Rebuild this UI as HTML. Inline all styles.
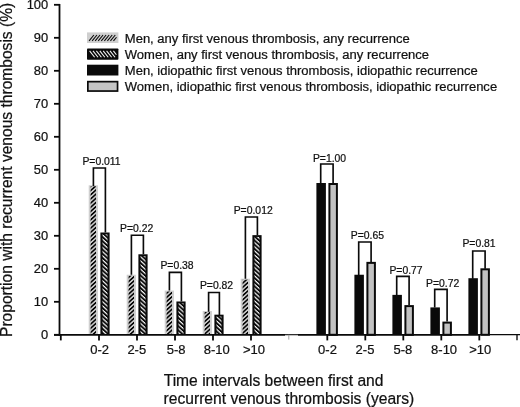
<!DOCTYPE html>
<html><head><meta charset="utf-8"><title>Chart</title>
<style>html,body{margin:0;padding:0;background:#fff;}body{width:520px;height:407px;overflow:hidden;}svg{display:block;will-change:transform;}text{font-family:"Liberation Sans",sans-serif;fill:#111;stroke:#111;stroke-width:0.22px;}</style>
</head><body>
<svg width="520" height="407" viewBox="0 0 520 407">
<defs>
<pattern id="hA" patternUnits="userSpaceOnUse" width="20" height="3.1" patternTransform="rotate(-42)"><rect width="20" height="3.1" fill="#cfcfcf"/><rect width="20" height="1.6" fill="#050505"/></pattern>
<pattern id="hB" patternUnits="userSpaceOnUse" width="20" height="3.1" patternTransform="rotate(42)"><rect width="20" height="3.1" fill="#0a0a0a"/><rect width="20" height="1.2" fill="#f6f6f6"/></pattern>
</defs>
<rect width="520" height="407" fill="#ffffff"/>
<rect x="88.70" y="185.31" width="9.2" height="149.49" fill="#cfcfcf"/>
<rect x="90.60" y="186.31" width="5.40" height="148.49" fill="url(#hA)"/>
<rect x="100.40" y="232.50" width="9.2" height="102.30" fill="#0a0a0a"/>
<rect x="102.50" y="234.30" width="5.00" height="100.50" fill="url(#hB)"/>
<rect x="126.70" y="274.74" width="9.2" height="60.06" fill="#cfcfcf"/>
<rect x="128.60" y="275.74" width="5.40" height="59.06" fill="url(#hA)"/>
<rect x="138.40" y="254.28" width="9.2" height="80.52" fill="#0a0a0a"/>
<rect x="140.50" y="256.08" width="5.00" height="78.72" fill="url(#hB)"/>
<rect x="164.70" y="290.58" width="9.2" height="44.22" fill="#cfcfcf"/>
<rect x="166.60" y="291.58" width="5.40" height="43.22" fill="url(#hA)"/>
<rect x="176.40" y="301.47" width="9.2" height="33.33" fill="#0a0a0a"/>
<rect x="178.50" y="303.27" width="5.00" height="31.53" fill="url(#hB)"/>
<rect x="202.70" y="311.04" width="9.2" height="23.76" fill="#cfcfcf"/>
<rect x="204.60" y="312.04" width="5.40" height="22.76" fill="url(#hA)"/>
<rect x="214.40" y="314.67" width="9.2" height="20.13" fill="#0a0a0a"/>
<rect x="216.50" y="316.47" width="5.00" height="18.33" fill="url(#hB)"/>
<rect x="240.70" y="278.70" width="9.2" height="56.10" fill="#cfcfcf"/>
<rect x="242.60" y="279.70" width="5.40" height="55.10" fill="url(#hA)"/>
<rect x="252.40" y="235.14" width="9.2" height="99.66" fill="#0a0a0a"/>
<rect x="254.50" y="236.94" width="5.00" height="97.86" fill="url(#hB)"/>
<rect x="316.40" y="183.00" width="9.5" height="151.80" fill="#0a0a0a"/>
<rect x="329.40" y="184.00" width="7.50" height="150.80" fill="#c2c2c2" stroke="#0a0a0a" stroke-width="2.0"/>
<rect x="354.40" y="274.74" width="9.5" height="60.06" fill="#0a0a0a"/>
<rect x="367.40" y="262.87" width="7.50" height="71.93" fill="#c2c2c2" stroke="#0a0a0a" stroke-width="2.0"/>
<rect x="392.40" y="294.87" width="9.5" height="39.93" fill="#0a0a0a"/>
<rect x="405.40" y="306.10" width="7.50" height="28.70" fill="#c2c2c2" stroke="#0a0a0a" stroke-width="2.0"/>
<rect x="430.40" y="307.41" width="9.5" height="27.39" fill="#0a0a0a"/>
<rect x="443.40" y="322.60" width="7.50" height="12.20" fill="#c2c2c2" stroke="#0a0a0a" stroke-width="2.0"/>
<rect x="468.40" y="278.21" width="9.5" height="56.59" fill="#0a0a0a"/>
<rect x="481.40" y="269.31" width="7.50" height="65.50" fill="#c2c2c2" stroke="#0a0a0a" stroke-width="2.0"/>
<path d="M93.40,186.30 L93.40,168.00 L105.40,168.00 L105.40,232.50" fill="none" stroke="#0a0a0a" stroke-width="1.65" stroke-linejoin="miter"/>
<text x="82.40" y="165.00" font-size="10.4">P=0.011</text>
<path d="M131.40,274.74 L131.40,235.20 L143.40,235.20 L143.40,254.28" fill="none" stroke="#0a0a0a" stroke-width="1.65" stroke-linejoin="miter"/>
<text x="120.10" y="232.20" font-size="10.4">P=0.22</text>
<path d="M169.40,290.58 L169.40,272.30 L181.40,272.30 L181.40,301.47" fill="none" stroke="#0a0a0a" stroke-width="1.65" stroke-linejoin="miter"/>
<text x="160.40" y="268.50" font-size="10.4">P=0.38</text>
<path d="M208.60,311.70 L208.60,292.50 L219.40,292.50 L219.40,315.00" fill="none" stroke="#0a0a0a" stroke-width="1.65" stroke-linejoin="miter"/>
<text x="199.90" y="289.30" font-size="10.4">P=0.82</text>
<path d="M245.40,278.70 L245.40,217.00 L257.40,217.00 L257.40,235.14" fill="none" stroke="#0a0a0a" stroke-width="1.65" stroke-linejoin="miter"/>
<text x="233.70" y="214.20" font-size="10.4">P=0.012</text>
<path d="M320.70,183.00 L320.70,164.00 L333.10,164.00 L333.10,183.00" fill="none" stroke="#0a0a0a" stroke-width="1.65" stroke-linejoin="miter"/>
<text x="312.90" y="162.00" font-size="10.4">P=1.00</text>
<path d="M358.70,275.40 L358.70,242.00 L371.10,242.00 L371.10,262.20" fill="none" stroke="#0a0a0a" stroke-width="1.65" stroke-linejoin="miter"/>
<text x="350.80" y="238.60" font-size="10.4">P=0.65</text>
<path d="M396.70,295.20 L396.70,276.40 L409.10,276.40 L409.10,305.10" fill="none" stroke="#0a0a0a" stroke-width="1.65" stroke-linejoin="miter"/>
<text x="389.40" y="273.60" font-size="10.4">P=0.77</text>
<path d="M434.70,307.41 L434.70,289.30 L447.10,289.30 L447.10,321.60" fill="none" stroke="#0a0a0a" stroke-width="1.65" stroke-linejoin="miter"/>
<text x="426.10" y="286.60" font-size="10.4">P=0.72</text>
<path d="M472.70,278.70 L472.70,251.00 L485.10,251.00 L485.10,268.80" fill="none" stroke="#0a0a0a" stroke-width="1.65" stroke-linejoin="miter"/>
<text x="462.40" y="247.40" font-size="10.4">P=0.81</text>
<line x1="59.5" y1="3.9" x2="59.5" y2="335.70" stroke="#0a0a0a" stroke-width="1.8"/>
<line x1="54" y1="334.8" x2="285" y2="334.8" stroke="#0a0a0a" stroke-width="1.8"/>
<line x1="285" y1="334.7" x2="298" y2="334.7" stroke="#0a0a0a" stroke-width="1.1"/>
<line x1="298" y1="334.8" x2="480" y2="334.8" stroke="#0a0a0a" stroke-width="1.8"/>
<line x1="480" y1="334.7" x2="520" y2="334.7" stroke="#0a0a0a" stroke-width="1.2"/>
<line x1="54" y1="334.80" x2="60" y2="334.80" stroke="#0a0a0a" stroke-width="1.8"/>
<text x="48.2" y="339.25" font-size="12.9" text-anchor="end">0</text>
<line x1="54" y1="301.80" x2="60" y2="301.80" stroke="#0a0a0a" stroke-width="1.8"/>
<text x="48.2" y="306.25" font-size="12.9" text-anchor="end">10</text>
<line x1="54" y1="268.80" x2="60" y2="268.80" stroke="#0a0a0a" stroke-width="1.8"/>
<text x="48.2" y="273.25" font-size="12.9" text-anchor="end">20</text>
<line x1="54" y1="235.80" x2="60" y2="235.80" stroke="#0a0a0a" stroke-width="1.8"/>
<text x="48.2" y="240.25" font-size="12.9" text-anchor="end">30</text>
<line x1="54" y1="202.80" x2="60" y2="202.80" stroke="#0a0a0a" stroke-width="1.8"/>
<text x="48.2" y="207.25" font-size="12.9" text-anchor="end">40</text>
<line x1="54" y1="169.80" x2="60" y2="169.80" stroke="#0a0a0a" stroke-width="1.8"/>
<text x="48.2" y="174.25" font-size="12.9" text-anchor="end">50</text>
<line x1="54" y1="136.80" x2="60" y2="136.80" stroke="#0a0a0a" stroke-width="1.8"/>
<text x="48.2" y="141.25" font-size="12.9" text-anchor="end">60</text>
<line x1="54" y1="103.80" x2="60" y2="103.80" stroke="#0a0a0a" stroke-width="1.8"/>
<text x="48.2" y="108.25" font-size="12.9" text-anchor="end">70</text>
<line x1="54" y1="70.80" x2="60" y2="70.80" stroke="#0a0a0a" stroke-width="1.8"/>
<text x="48.2" y="75.25" font-size="12.9" text-anchor="end">80</text>
<line x1="54" y1="37.80" x2="60" y2="37.80" stroke="#0a0a0a" stroke-width="1.8"/>
<text x="48.2" y="42.25" font-size="12.9" text-anchor="end">90</text>
<line x1="54" y1="4.80" x2="60" y2="4.80" stroke="#0a0a0a" stroke-width="1.8"/>
<text x="48.2" y="9.25" font-size="12.9" text-anchor="end">100</text>
<line x1="60.8" y1="334.8" x2="60.8" y2="340.4" stroke="#0a0a0a" stroke-width="1.8"/>
<line x1="99" y1="334.8" x2="99" y2="340.4" stroke="#0a0a0a" stroke-width="1.8"/>
<line x1="137" y1="334.8" x2="137" y2="340.4" stroke="#0a0a0a" stroke-width="1.8"/>
<line x1="175" y1="334.8" x2="175" y2="340.4" stroke="#0a0a0a" stroke-width="1.8"/>
<line x1="213" y1="334.8" x2="213" y2="340.4" stroke="#0a0a0a" stroke-width="1.8"/>
<line x1="251" y1="334.8" x2="251" y2="340.4" stroke="#0a0a0a" stroke-width="1.8"/>
<line x1="327.3" y1="334.8" x2="327.3" y2="340.4" stroke="#0a0a0a" stroke-width="1.8"/>
<line x1="365.3" y1="334.8" x2="365.3" y2="340.4" stroke="#0a0a0a" stroke-width="1.8"/>
<line x1="403.3" y1="334.8" x2="403.3" y2="340.4" stroke="#0a0a0a" stroke-width="1.8"/>
<line x1="441.3" y1="334.8" x2="441.3" y2="340.4" stroke="#0a0a0a" stroke-width="1.8"/>
<line x1="479.3" y1="334.8" x2="479.3" y2="340.4" stroke="#0a0a0a" stroke-width="1.8"/>
<line x1="288.8" y1="334.8" x2="288.8" y2="339.6" stroke="#9a9a9a" stroke-width="0.9"/>
<line x1="517" y1="334.8" x2="517" y2="340.2" stroke="#111" stroke-width="1.4"/>
<text x="99.6" y="353.6" font-size="13" text-anchor="middle">0-2</text>
<text x="136.8" y="353.6" font-size="13" text-anchor="middle">2-5</text>
<text x="176.2" y="353.6" font-size="13" text-anchor="middle">5-8</text>
<text x="216.8" y="353.6" font-size="13" text-anchor="middle">8-10</text>
<text x="254.0" y="353.6" font-size="13" text-anchor="middle">&gt;10</text>
<text x="327.5" y="353.6" font-size="13" text-anchor="middle">0-2</text>
<text x="365.0" y="353.6" font-size="13" text-anchor="middle">2-5</text>
<text x="402.9" y="353.6" font-size="13" text-anchor="middle">5-8</text>
<text x="444.1" y="353.6" font-size="13" text-anchor="middle">8-10</text>
<text x="480.3" y="353.6" font-size="13" text-anchor="middle">&gt;10</text>
<rect x="87" y="32.4" width="31.4" height="10.6" fill="#cfcfcf"/>
<line x1="89.10" y1="40.90" x2="93.90" y2="35.00" stroke="#050505" stroke-width="1.05"/>
<line x1="92.15" y1="40.90" x2="96.95" y2="35.00" stroke="#050505" stroke-width="1.05"/>
<line x1="95.20" y1="40.90" x2="100.00" y2="35.00" stroke="#050505" stroke-width="1.05"/>
<line x1="98.25" y1="40.90" x2="103.05" y2="35.00" stroke="#050505" stroke-width="1.05"/>
<line x1="101.30" y1="40.90" x2="106.10" y2="35.00" stroke="#050505" stroke-width="1.05"/>
<line x1="104.35" y1="40.90" x2="109.15" y2="35.00" stroke="#050505" stroke-width="1.05"/>
<line x1="107.40" y1="40.90" x2="112.20" y2="35.00" stroke="#050505" stroke-width="1.05"/>
<line x1="110.45" y1="40.90" x2="115.25" y2="35.00" stroke="#050505" stroke-width="1.05"/>
<line x1="113.50" y1="40.90" x2="116.50" y2="37.21" stroke="#050505" stroke-width="1.05"/>
<rect x="87" y="48.5" width="31.4" height="11.2" rx="0.8" fill="#0a0a0a"/>
<line x1="89.60" y1="50.90" x2="94.60" y2="57.30" stroke="#f6f6f6" stroke-width="1.05"/>
<line x1="93.00" y1="50.90" x2="98.00" y2="57.30" stroke="#f6f6f6" stroke-width="1.05"/>
<line x1="96.40" y1="50.90" x2="101.40" y2="57.30" stroke="#f6f6f6" stroke-width="1.05"/>
<line x1="99.80" y1="50.90" x2="104.80" y2="57.30" stroke="#f6f6f6" stroke-width="1.05"/>
<line x1="103.20" y1="50.90" x2="108.20" y2="57.30" stroke="#f6f6f6" stroke-width="1.05"/>
<line x1="106.60" y1="50.90" x2="111.60" y2="57.30" stroke="#f6f6f6" stroke-width="1.05"/>
<line x1="110.00" y1="50.90" x2="115.00" y2="57.30" stroke="#f6f6f6" stroke-width="1.05"/>
<line x1="113.40" y1="50.90" x2="116.40" y2="54.74" stroke="#f6f6f6" stroke-width="1.05"/>
<rect x="87" y="64.7" width="31.4" height="10.799999999999999" fill="#0a0a0a"/>
<rect x="87.85" y="81.65" width="29.7" height="9.399999999999999" fill="#c4c4c4" stroke="#0a0a0a" stroke-width="1.7"/>
<text x="124.8" y="42.75" font-size="13.03">Men, any first venous thrombosis, any recurrence</text>
<text x="124.8" y="58.75" font-size="13.03">Women, any first venous thrombosis, any recurrence</text>
<text x="124.8" y="74.75" font-size="13.03">Men, idiopathic first venous thrombosis, idiopathic recurrence</text>
<text x="124.8" y="90.95" font-size="13.03">Women, idiopathic first venous thrombosis, idiopathic recurrence</text>
<text x="163.7" y="386.35" font-size="15.62">Time intervals between first and</text>
<text x="163.6" y="403.8" font-size="15.62">recurrent venous thrombosis (years)</text>
<text transform="translate(12.1,337.0) rotate(-90)" font-size="15.59">Proportion with recurrent venous thrombosis (%)</text>
</svg></body></html>
